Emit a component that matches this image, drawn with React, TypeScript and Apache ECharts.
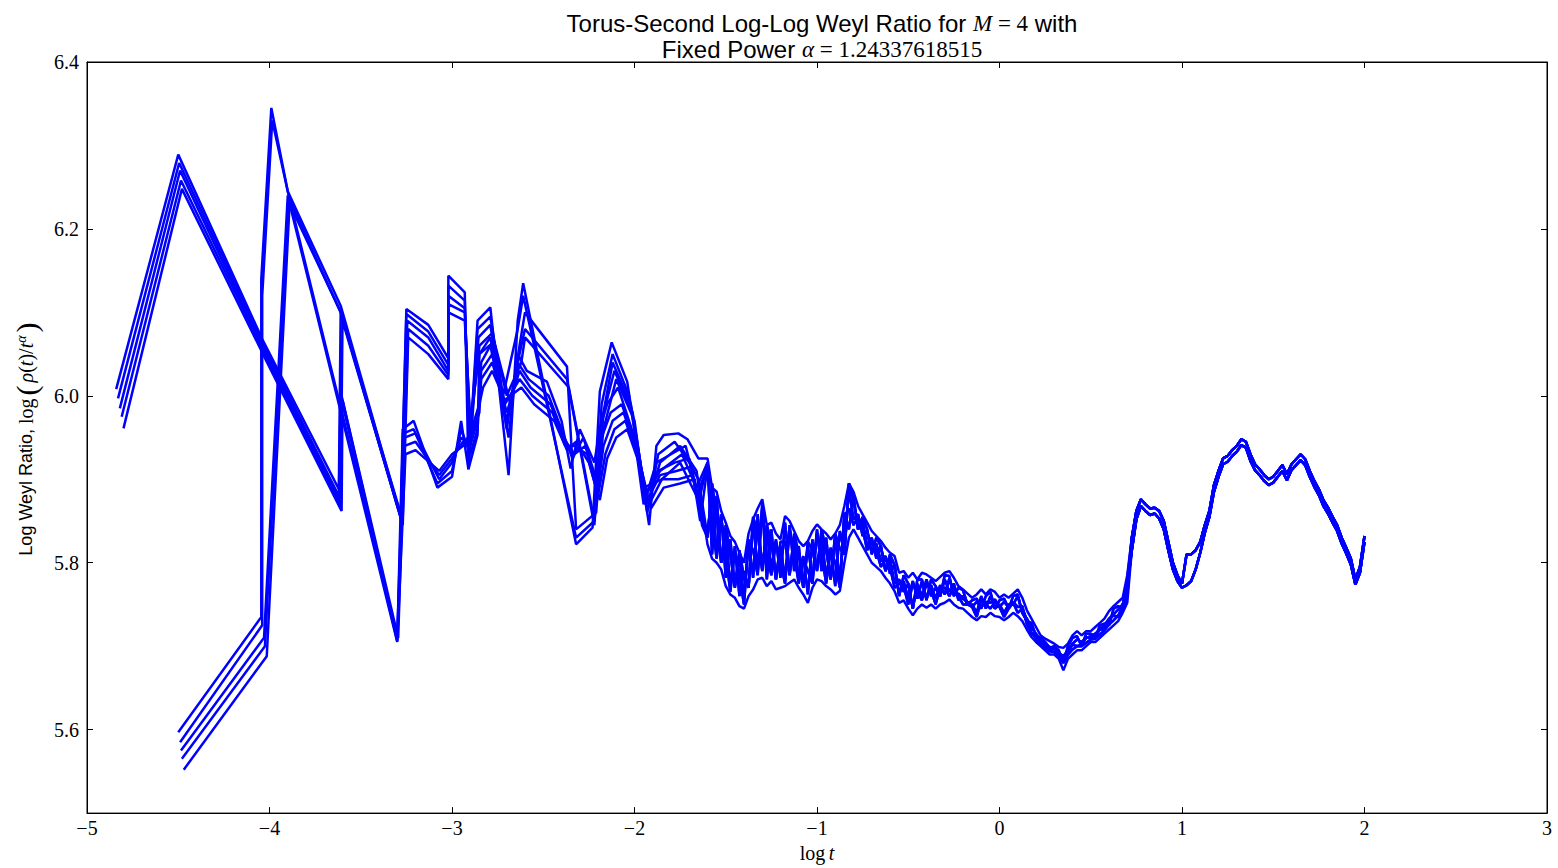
import React, { useEffect, useRef } from 'react';
import * as echarts from 'echarts';

const xTicks = [-5, -4, -3, -2, -1, 0, 1, 2, 3];
const yTicks = [5.6, 5.8, 6.0, 6.2, 6.4];

// Heads: sparse early samples of each run (x = log t, y = log Weyl ratio)
const headA0 = [[-4.84, 6.008], [-4.5, 6.289], [-4.04, 6.068], [-3.62, 5.888], [-3.61, 6.1], [-3.28, 5.858]];
const headA3 = [[-4.81, 5.975], [-4.485, 6.258], [-4.025, 6.05], [-3.61, 5.868], [-3.6, 6.09], [-3.275, 5.85]];
const headB0 = [[-4.5, 5.597], [-4.045, 5.735], [-4.045, 6.14], [-3.99, 6.345], [-3.9, 6.245], [-3.61, 6.108], [-3.28, 5.855]];
const headB2 = [[-4.485, 5.575], [-4.03, 5.71], [-3.9, 6.24], [-3.61, 6.1], [-3.275, 5.85]];
const headB4 = [[-4.47, 5.552], [-4.015, 5.688], [-3.89, 6.23], [-3.605, 6.098], [-3.27, 5.845]];
const headA1 = [[-4.83, 5.997], [-4.495, 6.279], [-4.035, 6.062], [-3.62, 5.88], [-3.61, 6.0], [-3.3, 5.706]];
const headA2 = [[-4.82, 5.985], [-4.49, 6.27], [-4.03, 6.055], [-3.615, 5.874], [-3.605, 6.0], [-3.3, 5.708]];
const headA4 = [[-4.8, 5.961], [-4.48, 6.248], [-4.02, 6.043], [-3.605, 5.862], [-3.6, 5.995], [-3.295, 5.71]];
const headB1 = [[-4.49, 5.585], [-4.04, 5.725], [-4.04, 6.12], [-3.985, 6.33], [-3.895, 6.24], [-3.3, 5.71]];
const headB3 = [[-4.48, 5.565], [-4.025, 5.7], [-3.895, 6.235], [-3.3, 5.705]];

// Middle sections, upper and lower clusters
const midU0 = [[-3.25, 6.104], [-3.13, 6.085], [-3.02, 6.045], [-3.02, 6.144], [-2.93, 6.124], [-2.91, 5.912], [-2.86, 6.09], [-2.79, 6.106], [-2.69, 5.905], [-2.64, 6.09], [-2.61, 6.135], [-2.32, 5.822], [-2.23, 5.842], [-2.19, 6.005], [-2.125, 6.064], [-2.04, 6.017], [-1.92, 5.845], [-1.88, 5.94], [-1.84, 5.953], [-1.76, 5.955], [-1.71, 5.948], [-1.65, 5.925]];
const midU1 = [[-3.25, 6.098], [-3.13, 6.077], [-3.02, 6.037], [-3.02, 6.132], [-2.93, 6.114], [-2.905, 5.925], [-2.86, 6.08], [-2.79, 6.095], [-2.72, 6.0], [-2.64, 6.08], [-2.61, 6.12], [-2.32, 5.83], [-2.22, 5.85], [-2.18, 5.99], [-2.12, 6.05], [-2.03, 6.0], [-1.93, 5.86], [-1.87, 5.93], [-1.78, 5.945], [-1.7, 5.92], [-1.65, 5.9]];
const midU2 = [[-3.245, 6.09], [-3.13, 6.07], [-3.02, 6.03], [-3.02, 6.12], [-2.93, 6.105], [-2.9, 5.94], [-2.855, 6.07], [-2.79, 6.085], [-2.7, 5.96], [-2.63, 6.06], [-2.6, 6.1], [-2.37, 6.035], [-2.32, 5.84], [-2.21, 5.86], [-2.17, 5.98], [-2.12, 6.04], [-2.02, 5.99], [-1.93, 5.87], [-1.86, 5.92], [-1.75, 5.94], [-1.66, 5.91]];
const midU3 = [[-3.24, 6.08], [-3.13, 6.06], [-3.02, 6.025], [-3.02, 6.11], [-2.93, 6.1], [-2.9, 5.96], [-2.85, 6.06], [-2.78, 6.075], [-2.68, 5.99], [-2.63, 6.05], [-2.6, 6.08], [-2.37, 6.02], [-2.22, 5.845], [-2.18, 5.97], [-2.11, 6.03], [-2.01, 5.98], [-1.94, 5.88], [-1.86, 5.91], [-1.74, 5.93], [-1.66, 5.89]];
const midU4 = [[-3.24, 6.07], [-3.13, 6.05], [-3.02, 6.02], [-3.02, 6.1], [-2.93, 6.09], [-2.9, 5.97], [-2.85, 6.05], [-2.77, 6.065], [-2.7, 6.0], [-2.62, 6.04], [-2.6, 6.07], [-2.36, 6.01], [-2.22, 5.85], [-2.17, 5.96], [-2.1, 6.02], [-2.0, 5.97], [-1.95, 5.89], [-1.85, 5.9], [-1.75, 5.92], [-1.66, 5.88]];
const midL0 = [[-3.27, 5.96], [-3.21, 5.97], [-3.08, 5.89], [-3.0, 5.903], [-2.95, 5.97], [-2.91, 5.912], [-2.86, 5.953], [-2.85, 6.05], [-2.79, 6.07], [-2.69, 5.95], [-2.64, 6.05], [-2.59, 6.03], [-2.48, 6.017], [-2.4, 5.97], [-2.35, 5.913], [-2.3, 5.96], [-2.22, 5.92], [-2.19, 5.96], [-2.15, 5.99], [-2.09, 6.01], [-2.0, 5.95], [-1.95, 5.87], [-1.88, 5.92], [-1.8, 5.93], [-1.72, 5.94], [-1.65, 5.88]];
const midL1 = [[-3.265, 5.955], [-3.21, 5.96], [-3.08, 5.895], [-3.0, 5.91], [-2.95, 5.96], [-2.9, 5.93], [-2.86, 5.96], [-2.84, 6.04], [-2.79, 6.06], [-2.7, 5.97], [-2.64, 6.04], [-2.58, 6.02], [-2.47, 6.0], [-2.4, 5.96], [-2.34, 5.925], [-2.28, 5.95], [-2.21, 5.9], [-2.18, 5.95], [-2.13, 5.98], [-2.07, 5.99], [-1.99, 5.94], [-1.94, 5.88], [-1.87, 5.91], [-1.78, 5.92], [-1.7, 5.925], [-1.65, 5.87]];
const midL2 = [[-3.26, 5.95], [-3.2, 5.955], [-3.07, 5.9], [-3.0, 5.92], [-2.95, 5.95], [-2.9, 5.94], [-2.86, 5.97], [-2.84, 6.03], [-2.78, 6.05], [-2.7, 5.98], [-2.63, 6.03], [-2.57, 6.01], [-2.46, 5.99], [-2.39, 5.95], [-2.33, 5.93], [-2.27, 5.94], [-2.2, 5.89], [-2.17, 5.94], [-2.12, 5.97], [-2.06, 5.98], [-1.98, 5.93], [-1.93, 5.875], [-1.86, 5.905], [-1.77, 5.91], [-1.69, 5.915], [-1.64, 5.86]];
const midL3 = [[-3.26, 5.94], [-3.2, 5.945], [-3.07, 5.905], [-3.0, 5.925], [-2.94, 5.945], [-2.9, 5.95], [-2.85, 5.98], [-2.84, 6.02], [-2.78, 6.04], [-2.71, 5.99], [-2.63, 6.02], [-2.56, 6.0], [-2.45, 5.98], [-2.38, 5.94], [-2.33, 5.94], [-2.26, 5.93], [-2.2, 5.88], [-2.16, 5.93], [-2.11, 5.96], [-2.05, 5.97], [-1.97, 5.92], [-1.92, 5.87], [-1.85, 5.9], [-1.76, 5.9], [-1.68, 5.905], [-1.64, 5.85]];
const midL4 = [[-3.255, 5.93], [-3.2, 5.935], [-3.07, 5.91], [-3.0, 5.93], [-2.94, 5.94], [-2.9, 5.955], [-2.85, 5.99], [-2.83, 6.01], [-2.78, 6.03], [-2.71, 5.995], [-2.62, 6.01], [-2.55, 5.99], [-2.44, 5.97], [-2.37, 5.935], [-2.32, 5.945], [-2.25, 5.92], [-2.19, 5.875], [-2.15, 5.925], [-2.1, 5.95], [-2.04, 5.96], [-1.96, 5.91], [-1.91, 5.865], [-1.84, 5.89], [-1.75, 5.895], [-1.67, 5.9], [-1.63, 5.845]];

// Dense tail, wide band region
const wideX = [-1.6, -1.575, -1.55, -1.525, -1.5, -1.475, -1.45, -1.425, -1.4, -1.375, -1.35, -1.325, -1.3, -1.275, -1.25, -1.225, -1.2, -1.175, -1.15, -1.125, -1.1, -1.075, -1.05, -1.025, -1, -0.975, -0.95, -0.925, -0.9, -0.875, -0.85, -0.825, -0.8, -0.775, -0.75, -0.725, -0.7, -0.675, -0.65, -0.625, -0.6, -0.575, -0.55, -0.525, -0.5, -0.475, -0.45, -0.425, -0.4, -0.375, -0.35, -0.325, -0.3, -0.275, -0.25, -0.225, -0.2, -0.175, -0.15, -0.125, -0.1, -0.075, -0.05, -0.025, 0, 0.025, 0.05, 0.075, 0.1, 0.125, 0.15, 0.175, 0.2, 0.225, 0.25, 0.275, 0.3, 0.325, 0.35, 0.375, 0.4, 0.425, 0.45, 0.475, 0.5, 0.525, 0.55, 0.575, 0.6, 0.625, 0.65, 0.675, 0.7];
const wide1 = [5.925, 5.89, 5.885, 5.862, 5.848, 5.832, 5.825, 5.812, 5.8, 5.835, 5.852, 5.865, 5.876, 5.845, 5.848, 5.835, 5.828, 5.856, 5.85, 5.838, 5.826, 5.82, 5.826, 5.838, 5.846, 5.84, 5.835, 5.828, 5.835, 5.845, 5.868, 5.895, 5.885, 5.868, 5.858, 5.848, 5.838, 5.832, 5.826, 5.818, 5.812, 5.808, 5.788, 5.79, 5.782, 5.788, 5.78, 5.788, 5.786, 5.782, 5.778, 5.783, 5.788, 5.79, 5.782, 5.772, 5.768, 5.763, 5.758, 5.762, 5.768, 5.762, 5.768, 5.765, 5.758, 5.762, 5.758, 5.763, 5.768, 5.758, 5.743, 5.733, 5.723, 5.713, 5.709, 5.706, 5.703, 5.699, 5.698, 5.703, 5.713, 5.718, 5.713, 5.718, 5.718, 5.723, 5.728, 5.733, 5.742, 5.748, 5.753, 5.758, 5.785];
const wide2 = [5.92, 5.81, 5.88, 5.8, 5.84, 5.77, 5.82, 5.76, 5.79, 5.77, 5.85, 5.79, 5.87, 5.78, 5.84, 5.78, 5.82, 5.78, 5.845, 5.79, 5.82, 5.77, 5.82, 5.78, 5.84, 5.79, 5.83, 5.78, 5.83, 5.775, 5.86, 5.84, 5.88, 5.84, 5.85, 5.82, 5.83, 5.805, 5.82, 5.79, 5.805, 5.775, 5.78, 5.765, 5.775, 5.745, 5.775, 5.76, 5.78, 5.76, 5.77, 5.76, 5.78, 5.765, 5.775, 5.755, 5.76, 5.75, 5.75, 5.74, 5.76, 5.745, 5.76, 5.745, 5.75, 5.74, 5.75, 5.75, 5.76, 5.74, 5.733, 5.722, 5.715, 5.707, 5.702, 5.699, 5.697, 5.692, 5.688, 5.695, 5.703, 5.708, 5.705, 5.71, 5.712, 5.715, 5.72, 5.725, 5.733, 5.738, 5.744, 5.75, 5.77];
const wide3 = [5.832, 5.888, 5.812, 5.858, 5.782, 5.828, 5.772, 5.808, 5.757, 5.828, 5.782, 5.858, 5.792, 5.838, 5.792, 5.828, 5.782, 5.848, 5.787, 5.828, 5.782, 5.808, 5.762, 5.828, 5.792, 5.833, 5.782, 5.818, 5.772, 5.838, 5.812, 5.888, 5.852, 5.858, 5.832, 5.838, 5.812, 5.823, 5.802, 5.808, 5.787, 5.798, 5.762, 5.778, 5.757, 5.778, 5.757, 5.778, 5.757, 5.773, 5.757, 5.773, 5.762, 5.781, 5.762, 5.763, 5.757, 5.753, 5.747, 5.753, 5.747, 5.753, 5.752, 5.756, 5.747, 5.753, 5.747, 5.753, 5.747, 5.748, 5.726, 5.716, 5.709, 5.703, 5.698, 5.694, 5.693, 5.688, 5.68, 5.69, 5.696, 5.7, 5.7, 5.704, 5.708, 5.709, 5.714, 5.719, 5.726, 5.731, 5.737, 5.744, 5.76];
const wide4 = [5.822, 5.805, 5.8, 5.792, 5.772, 5.762, 5.758, 5.748, 5.745, 5.76, 5.768, 5.78, 5.782, 5.772, 5.778, 5.768, 5.77, 5.772, 5.776, 5.78, 5.77, 5.762, 5.752, 5.77, 5.78, 5.778, 5.772, 5.768, 5.762, 5.766, 5.8, 5.83, 5.84, 5.83, 5.82, 5.81, 5.8, 5.795, 5.79, 5.782, 5.775, 5.766, 5.752, 5.755, 5.745, 5.737, 5.745, 5.75, 5.746, 5.75, 5.745, 5.75, 5.752, 5.756, 5.75, 5.746, 5.745, 5.74, 5.735, 5.731, 5.736, 5.735, 5.74, 5.736, 5.735, 5.731, 5.735, 5.74, 5.736, 5.73, 5.72, 5.711, 5.705, 5.7, 5.695, 5.69, 5.69, 5.685, 5.671, 5.685, 5.69, 5.695, 5.695, 5.7, 5.705, 5.705, 5.71, 5.715, 5.72, 5.725, 5.73, 5.74, 5.752];
const wide5 = [5.915, 5.85, 5.805, 5.855, 5.81, 5.765, 5.815, 5.785, 5.75, 5.825, 5.815, 5.785, 5.865, 5.81, 5.785, 5.825, 5.8, 5.775, 5.84, 5.81, 5.775, 5.805, 5.79, 5.775, 5.835, 5.812, 5.775, 5.815, 5.8, 5.77, 5.855, 5.865, 5.845, 5.855, 5.84, 5.815, 5.825, 5.815, 5.795, 5.805, 5.795, 5.77, 5.775, 5.772, 5.75, 5.775, 5.765, 5.755, 5.775, 5.767, 5.75, 5.77, 5.77, 5.76, 5.77, 5.76, 5.75, 5.75, 5.747, 5.735, 5.755, 5.75, 5.745, 5.753, 5.747, 5.735, 5.745, 5.752, 5.74, 5.745, 5.732, 5.715, 5.712, 5.707, 5.7, 5.695, 5.697, 5.69, 5.685, 5.692, 5.702, 5.7, 5.702, 5.71, 5.71, 5.712, 5.72, 5.72, 5.732, 5.737, 5.735, 5.75, 5.77];
const wide6 = [5.83, 5.895, 5.855, 5.8, 5.845, 5.81, 5.77, 5.815, 5.782, 5.77, 5.855, 5.835, 5.79, 5.845, 5.825, 5.78, 5.825, 5.825, 5.785, 5.835, 5.81, 5.77, 5.825, 5.815, 5.79, 5.84, 5.815, 5.78, 5.835, 5.817, 5.81, 5.895, 5.875, 5.84, 5.855, 5.84, 5.81, 5.83, 5.82, 5.79, 5.81, 5.797, 5.76, 5.785, 5.775, 5.745, 5.78, 5.78, 5.755, 5.78, 5.772, 5.76, 5.785, 5.784, 5.76, 5.77, 5.767, 5.75, 5.755, 5.757, 5.745, 5.76, 5.765, 5.745, 5.755, 5.757, 5.745, 5.76, 5.762, 5.74, 5.73, 5.728, 5.712, 5.71, 5.705, 5.698, 5.7, 5.695, 5.68, 5.7, 5.71, 5.712, 5.7, 5.715, 5.715, 5.71, 5.725, 5.727, 5.725, 5.745, 5.748, 5.745, 5.78];

// Dense tail, narrow band region
const narrowX = [0.725, 0.75, 0.775, 0.8, 0.825, 0.85, 0.875, 0.9, 0.925, 0.95, 0.975, 1.0, 1.025, 1.05, 1.075, 1.1, 1.125, 1.15, 1.175, 1.2, 1.225, 1.25, 1.275, 1.3, 1.325, 1.35, 1.375, 1.4, 1.425, 1.45, 1.475, 1.5, 1.525, 1.55, 1.575, 1.6, 1.625, 1.65, 1.675, 1.7, 1.725, 1.75, 1.775, 1.8, 1.825, 1.85, 1.875, 1.9, 1.925, 1.95, 1.975, 2.0];
const narrow1 = [5.83, 5.862, 5.876, 5.87, 5.865, 5.866, 5.862, 5.85, 5.825, 5.8, 5.785, 5.775, 5.81, 5.81, 5.815, 5.825, 5.845, 5.862, 5.893, 5.91, 5.925, 5.928, 5.935, 5.94, 5.948, 5.945, 5.93, 5.918, 5.912, 5.905, 5.9, 5.903, 5.91, 5.917, 5.906, 5.918, 5.924, 5.93, 5.924, 5.91, 5.898, 5.888, 5.875, 5.866, 5.855, 5.845, 5.83, 5.818, 5.805, 5.78, 5.795, 5.832];
const narrow2 = [5.815, 5.852, 5.868, 5.862, 5.857, 5.859, 5.853, 5.84, 5.815, 5.792, 5.778, 5.77, 5.773, 5.778, 5.792, 5.812, 5.836, 5.855, 5.885, 5.903, 5.918, 5.921, 5.928, 5.933, 5.941, 5.938, 5.922, 5.911, 5.905, 5.898, 5.893, 5.896, 5.903, 5.91, 5.899, 5.911, 5.917, 5.923, 5.917, 5.903, 5.891, 5.881, 5.868, 5.859, 5.848, 5.838, 5.823, 5.811, 5.798, 5.774, 5.788, 5.825];

const runs = [
  [headA0, midU0, wide1, narrow1],
  [headA3, midU3, wide2, narrow2],
  [headB0, midU1, wide3, narrow1],
  [headB2, midU2, wide4, narrow2],
  [headB4, midU4, wide5, narrow2],
  [headA1, midL0, wide6, narrow1],
  [headA2, midL1, wide2, narrow2],
  [headA4, midL2, wide3, narrow1],
  [headB1, midL3, wide5, narrow1],
  [headB3, midL4, wide6, narrow2],
] as any[];

const serif = 'Liberation Serif';
const sans = 'Liberation Sans';

export default function App() {
  const ref = useRef<HTMLDivElement>(null);
  useEffect(() => {
    document.body.style.margin = '0';
    const chart = echarts.init(ref.current!, null, { renderer: 'svg' });
    const series = runs.map(([head, mid, wide, narrow]) => ({
      type: 'line',
      data: [
        ...head,
        ...mid,
        ...wideX.map((x: number, i: number) => [x, wide[i]]),
        ...narrowX.map((x: number, i: number) => [x, narrow[i]]),
      ],
      showSymbol: false,
      symbol: 'none',
      silent: true,
      lineStyle: { color: '#0000ff', width: 2.5 },
      xAxisIndex: 0,
      yAxisIndex: 0,
    }));
    const tickStyle = { color: '#000', width: 1 };
    chart.setOption({
      animation: false,
      backgroundColor: '#fff',
      title: {
        left: 817,
        top: 5,
        textAlign: 'center',
        text: '{s|Torus-Second Log-Log Weyl Ratio for }{i|M}{m| = 4}{s| with}\n{s|Fixed Power }{i|α}{m| = 1.24337618515}',
        textStyle: {
          fontWeight: 'normal',
          rich: {
            s: { fontFamily: sans, fontSize: 24, color: '#000', lineHeight: 26 },
            i: { fontFamily: serif, fontStyle: 'italic', fontSize: 23, color: '#000', lineHeight: 26 },
            m: { fontFamily: serif, fontSize: 23, color: '#000', lineHeight: 26 },
          },
        },
      },
      grid: { left: 87, right: 11, top: 62, bottom: 52, show: true, borderColor: '#000', borderWidth: 1 },
      xAxis: [
        {
          type: 'value', min: -5, max: 3, interval: 1, position: 'bottom',
          axisLine: { show: true, onZero: false, lineStyle: tickStyle },
          axisTick: { show: true, inside: true, length: 6, lineStyle: tickStyle },
          axisLabel: {
            color: '#000', fontFamily: serif, fontSize: 20, margin: 5,
            formatter: (v: number) => (v < 0 ? '\u2212' + Math.abs(v) : String(v)),
          },
          splitLine: { show: false },
          name: '{m|log} {i|t}', nameLocation: 'middle', nameGap: 27,
          nameTextStyle: {
            rich: {
              m: { fontFamily: serif, fontSize: 20, color: '#000' },
              i: { fontFamily: serif, fontStyle: 'italic', fontSize: 20, color: '#000' },
            },
          },
        },
        {
          type: 'value', min: -5, max: 3, interval: 1, position: 'top',
          axisLine: { show: true, onZero: false, lineStyle: tickStyle },
          axisTick: { show: true, inside: true, length: 6, lineStyle: tickStyle },
          axisLabel: { show: false },
          splitLine: { show: false },
        },
      ],
      yAxis: [
        {
          type: 'value', min: 5.5, max: 6.4, position: 'left',
          axisLine: { show: true, onZero: false, lineStyle: tickStyle },
          axisTick: { show: true, inside: true, length: 6, lineStyle: tickStyle, customValues: yTicks },
          axisLabel: {
            color: '#000', fontFamily: serif, fontSize: 20, margin: 8, customValues: yTicks,
            formatter: (v: number) => v.toFixed(1),
          },
          splitLine: { show: false },
          name: 'Log Weyl Ratio, {m|log}{p|(}{i|ρ}{m|(}{i|t}{m|)/}{i|t}{sup|α}{p|)}',
          nameLocation: 'middle', nameGap: 46,
          nameTextStyle: {
            fontFamily: sans, fontSize: 18, color: '#000',
            rich: {
              m: { fontFamily: serif, fontSize: 20, color: '#000' },
              i: { fontFamily: serif, fontStyle: 'italic', fontSize: 20, color: '#000' },
              p: { fontFamily: serif, fontSize: 30, color: '#000', padding: [0, 3, 0, 3] },
              sup: { fontFamily: serif, fontStyle: 'italic', fontSize: 14, color: '#000', padding: [0, 0, 10, 0] },
            },
          },
        },
        {
          type: 'value', min: 5.5, max: 6.4, position: 'right',
          axisLine: { show: true, onZero: false, lineStyle: tickStyle },
          axisTick: { show: true, inside: true, length: 6, lineStyle: tickStyle, customValues: yTicks },
          axisLabel: { show: false, customValues: yTicks },
          splitLine: { show: false },
        },
      ],
      series,
    });
    return () => chart.dispose();
  }, []);
  return <div ref={ref} style={{ width: 1558, height: 868 }} />;
}
